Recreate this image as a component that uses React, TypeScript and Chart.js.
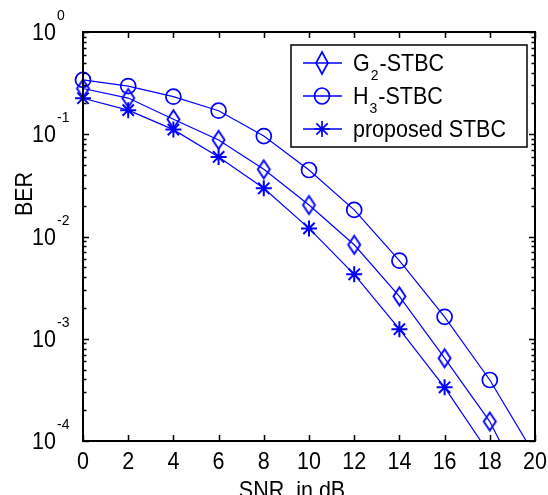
import React, { useEffect, useRef } from 'react';
import { Chart, registerables } from 'chart.js';

Chart.register(...registerables);

// ---- data ----
const snrDb = [0, 2, 4, 6, 8, 10, 12, 14, 16, 18, 20];
const g2Ber = [0.28, 0.226, 0.14, 0.088, 0.0454, 0.0203, 0.0083, 0.0026, 6.45e-4, 1.55e-4, 2.1e-5];
const h3Ber = [0.34, 0.296, 0.233, 0.17, 0.096, 0.0447, 0.0182, 0.0058, 0.00164, 3.95e-4, 7.2e-5];
const proposedBer = [0.225, 0.172, 0.111, 0.06, 0.0296, 0.012, 0.00427, 0.00124, 3.35e-4, 7.4e-5, 1.4e-5];
const xTickValues = [0, 2, 4, 6, 8, 10, 12, 14, 16, 18, 20];
const yDecadeExponents = [0, -1, -2, -3, -4];
const legendMain = ['G', 'H', 'proposed STBC'];
const legendSub = ['2', '3', ''];
const legendRest = ['-STBC', '-STBC', ''];
const xTitle = 'SNR, in dB';
const yTitle = 'BER';

const BLUE = '#0000ff';
const FONT = '"Liberation Sans", Arial, sans-serif';

function txt(ctx: CanvasRenderingContext2D, s: string, x: number, y: number, size: number, align: CanvasTextAlign, sy = 1.08) {
  ctx.save();
  ctx.translate(x, y);
  ctx.scale(1, sy);
  ctx.font = `${size}px ${FONT}`;
  ctx.textAlign = align;
  ctx.textBaseline = 'alphabetic';
  ctx.fillStyle = '#000';
  ctx.fillText(s, 0, 0);
  ctx.restore();
}

function measure(ctx: CanvasRenderingContext2D, s: string, size: number) {
  ctx.save();
  ctx.font = `${size}px ${FONT}`;
  const w = ctx.measureText(s).width;
  ctx.restore();
  return w;
}

function makeDiamond(w: number, h: number, lw: number) {
  const c = document.createElement('canvas');
  c.width = w + 5;
  c.height = h + 5;
  const g = c.getContext('2d')!;
  g.strokeStyle = BLUE;
  g.lineWidth = lw;
  const cx = c.width / 2;
  const cy = c.height / 2;
  g.beginPath();
  g.moveTo(cx, cy - h / 2);
  g.lineTo(cx + w / 2, cy);
  g.lineTo(cx, cy + h / 2);
  g.lineTo(cx - w / 2, cy);
  g.closePath();
  g.stroke();
  return c;
}

const framePlugin = {
  id: 'matlabFrame',
  afterDraw(chart: any) {
    const ctx: CanvasRenderingContext2D = chart.ctx;
    const { left, right, top, bottom } = chart.chartArea;
    const xs = chart.scales.x;
    const ys = chart.scales.y;
    ctx.save();
    // axes box
    ctx.strokeStyle = '#000';
    ctx.lineWidth = 2;
    ctx.strokeRect(left, top, right - left, bottom - top);
    // x ticks (inward, top and bottom)
    ctx.lineWidth = 1.5;
    ctx.beginPath();
    xTickValues.forEach((v) => {
      const px = Math.round(xs.getPixelForValue(v)) + 0.5;
      ctx.moveTo(px, bottom);
      ctx.lineTo(px, bottom - 6);
      ctx.moveTo(px, top);
      ctx.lineTo(px, top + 6);
    });
    // y ticks major/minor
    yDecadeExponents.forEach((e) => {
      const py = Math.round(ys.getPixelForValue(Math.pow(10, e))) + 0.5;
      ctx.moveTo(left, py);
      ctx.lineTo(left + 6, py);
      ctx.moveTo(right, py);
      ctx.lineTo(right - 6, py);
      if (e > -4) {
        for (let k = 2; k <= 9; k++) {
          const my = Math.round(ys.getPixelForValue(k * Math.pow(10, e - 1))) + 0.5;
          ctx.moveTo(left, my);
          ctx.lineTo(left + 3.5, my);
          ctx.moveTo(right, my);
          ctx.lineTo(right - 3.5, my);
        }
      }
    });
    ctx.stroke();

    // x tick labels
    xTickValues.forEach((v) => {
      txt(ctx, String(v), xs.getPixelForValue(v), 469, 21.5, 'center');
    });
    // y tick labels 10^e
    yDecadeExponents.forEach((e) => {
      const py = ys.getPixelForValue(Math.pow(10, e));
      txt(ctx, '10', 32, py + 8, 21.5, 'left');
      txt(ctx, String(e), 57, py - 12, 14, 'left');
    });
    // axis titles
    txt(ctx, xTitle, 292, 498, 21.5, 'center');
    ctx.save();
    ctx.translate(31.5, 194);
    ctx.rotate(-Math.PI / 2);
    ctx.scale(1, 1.08);
    ctx.font = `21.5px ${FONT}`;
    ctx.textAlign = 'center';
    ctx.textBaseline = 'alphabetic';
    ctx.fillStyle = '#000';
    ctx.fillText(yTitle, 0, 0);
    ctx.restore();

    // legend
    const lx = 291, ly = 45, lw = 236, lh = 102;
    ctx.fillStyle = '#fff';
    ctx.fillRect(lx, ly, lw, lh);
    ctx.strokeStyle = '#000';
    ctx.lineWidth = 1.5;
    ctx.strokeRect(lx, ly, lw, lh);
    const rows = [63, 96, 129];
    rows.forEach((ry, i) => {
      ctx.strokeStyle = BLUE;
      ctx.lineWidth = 1.3;
      ctx.beginPath();
      ctx.moveTo(303, ry);
      ctx.lineTo(342, ry);
      ctx.stroke();
      ctx.lineWidth = 1.7;
      ctx.beginPath();
      if (i === 0) {
        ctx.moveTo(322, ry - 11);
        ctx.lineTo(328, ry);
        ctx.lineTo(322, ry + 11);
        ctx.lineTo(316, ry);
        ctx.closePath();
      } else if (i === 1) {
        ctx.ellipse(322, ry, 7.5, 8, 0, 0, Math.PI * 2);
      } else {
        for (let a = 0; a < 4; a++) {
          const ang = (a * Math.PI) / 4;
          ctx.moveTo(322 - 8 * Math.cos(ang), ry - 8 * Math.sin(ang));
          ctx.lineTo(322 + 8 * Math.cos(ang), ry + 8 * Math.sin(ang));
        }
      }
      ctx.stroke();
      let tx = 353;
      txt(ctx, legendMain[i], tx, ry + 8, 21.5, 'left');
      tx += measure(ctx, legendMain[i], 21.5);
      if (legendSub[i]) {
        txt(ctx, legendSub[i], tx + 1, ry + 17, 14, 'left');
        tx += measure(ctx, legendSub[i], 14) + 2;
      }
      if (legendRest[i]) {
        txt(ctx, legendRest[i], tx, ry + 8, 21.5, 'left');
      }
    });
    ctx.restore();
  },
};

export default function App() {
  const ref = useRef<HTMLCanvasElement | null>(null);
  useEffect(() => {
    if (!ref.current) return;
    const diamond = makeDiamond(12, 18, 1.9);
    const clip = { left: 20, top: 20, right: 20, bottom: 0 };
    const mk = (vals: number[]) => snrDb.map((x, i) => ({ x, y: vals[i] }));
    const chart = new Chart(ref.current, {
      type: 'line',
      data: {
        datasets: [
          {
            label: 'G2-STBC',
            data: mk(g2Ber),
            borderColor: BLUE,
            borderWidth: 1.2,
            pointStyle: diamond as any,
            pointRadius: 7,
            pointBorderColor: BLUE,
            pointBackgroundColor: 'rgba(0,0,0,0)',
            clip: clip as any,
          },
          {
            label: 'H3-STBC',
            data: mk(h3Ber),
            borderColor: BLUE,
            borderWidth: 1.2,
            pointStyle: 'circle',
            pointRadius: 7.5,
            pointBorderWidth: 1.7,
            pointBorderColor: BLUE,
            pointBackgroundColor: 'rgba(0,0,0,0)',
            clip: clip as any,
          },
          {
            label: 'proposed STBC',
            data: mk(proposedBer),
            borderColor: BLUE,
            borderWidth: 1.2,
            pointStyle: 'star',
            pointRadius: 8,
            pointBorderWidth: 2,
            pointBorderColor: BLUE,
            pointBackgroundColor: 'rgba(0,0,0,0)',
            clip: clip as any,
          },
        ],
      },
      options: {
        animation: false,
        responsive: false,
        layout: { padding: { left: 83, top: 32, right: 13, bottom: 54 } },
        plugins: { legend: { display: false }, tooltip: { enabled: false } },
        scales: {
          x: { type: 'linear', min: 0, max: 20, display: false },
          y: { type: 'logarithmic', min: 1e-4, max: 1, display: false },
        },
      },
      plugins: [framePlugin],
    });
    return () => chart.destroy();
  }, []);
  return (
    <div style={{ position: 'fixed', left: 0, top: 0, width: 548, height: 495, background: '#fff' }}>
      <canvas ref={ref} width={548} height={495} style={{ display: 'block' }} />
    </div>
  );
}
